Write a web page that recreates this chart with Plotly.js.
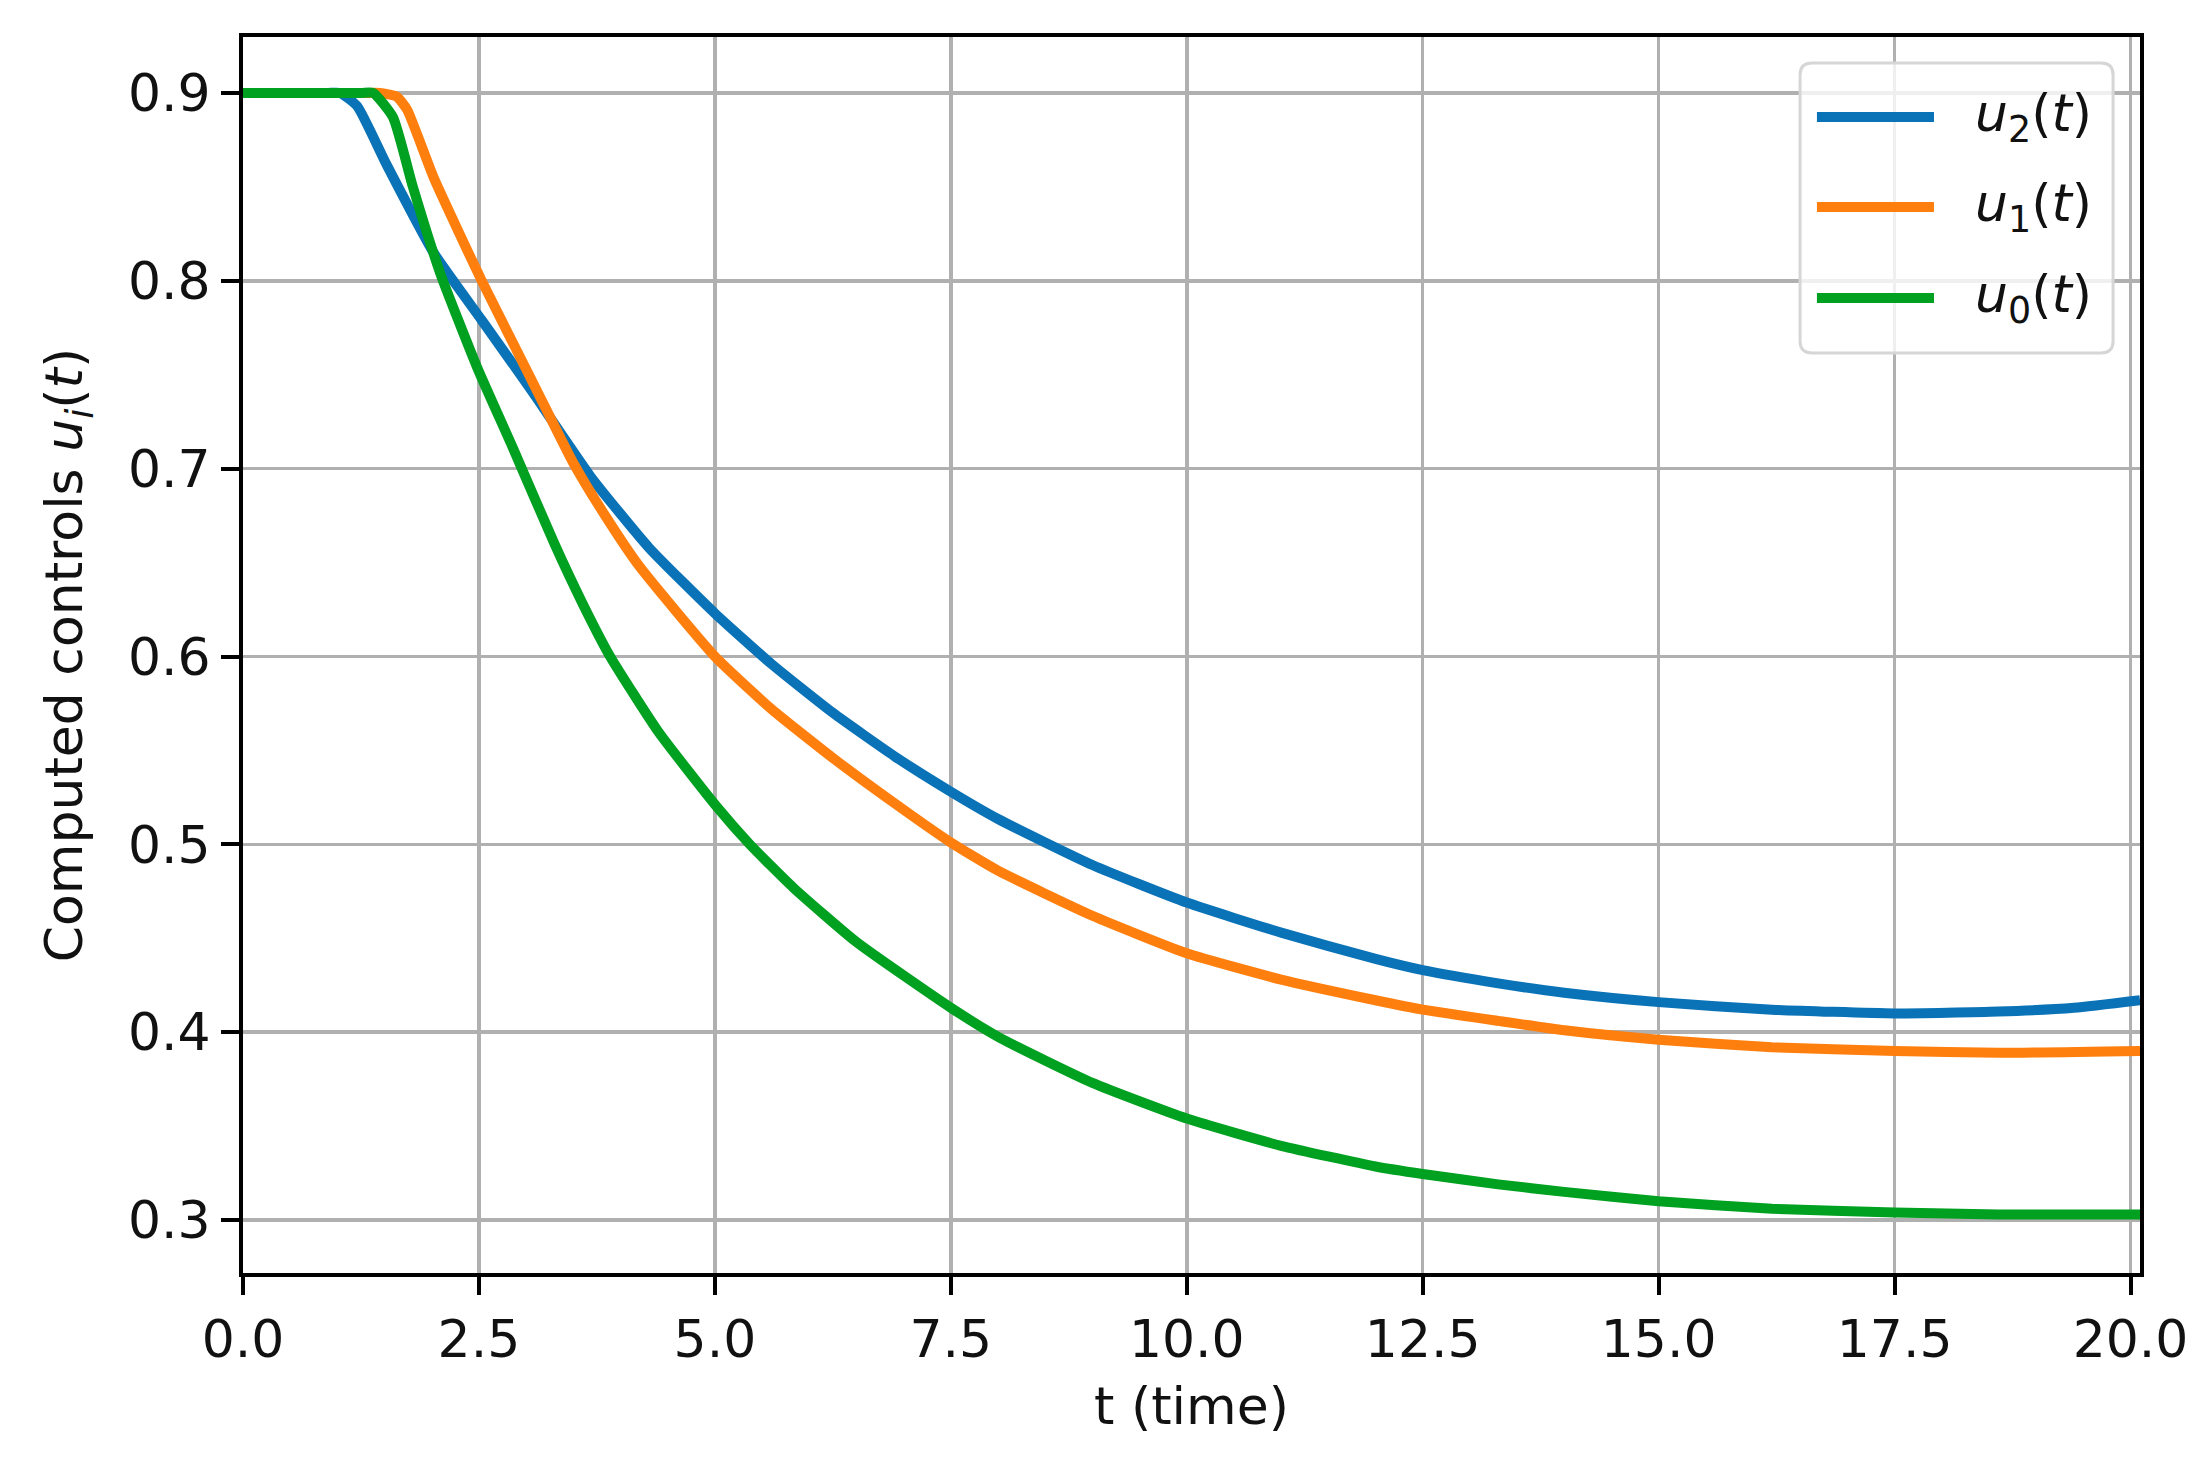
<!DOCTYPE html>
<html>
<head>
<meta charset="utf-8">
<script src="https://cdn.plot.ly/plotly-3.0.1.min.js"></script>
<style>
  html, body { margin: 0; padding: 0; background: #ffffff; }
  #chart { width: 2211px; height: 1461px; }
</style>
</head>
<body>
<div id="chart"></div>
<script>
// Computed controls (t in time units)
const tU2 = [0, 0.9, 1.03, 1.21, 1.52, 2.02, 2.53, 3.08, 3.68, 4.3, 5.0, 5.6, 6.25, 6.9, 7.5, 8.0, 9.0, 10.0, 11.0, 12.0, 12.5, 13.3, 14.0, 15.0, 16.2, 17.5, 18.6, 19.4, 20.1];
const u2 = [0.9, 0.9, 0.9, 0.893, 0.862, 0.815, 0.779, 0.740, 0.696, 0.658, 0.623, 0.596, 0.570, 0.547, 0.528, 0.5135, 0.489, 0.469, 0.453, 0.439, 0.433, 0.426, 0.421, 0.416, 0.412, 0.410, 0.411, 0.413, 0.417];

const tU1 = [0, 1.3, 1.45, 1.63, 1.74, 2.02, 2.53, 3.08, 3.5, 3.85, 4.2, 5.0, 5.6, 6.25, 6.9, 7.5, 8.0, 9.0, 10.0, 11.0, 12.0, 12.5, 13.3, 14.0, 15.0, 16.2, 17.5, 18.6, 20.1];
const u1 = [0.9, 0.9, 0.9, 0.898, 0.891, 0.855, 0.800, 0.745, 0.703, 0.674, 0.648, 0.600, 0.572, 0.546, 0.522, 0.501, 0.486, 0.462, 0.442, 0.428, 0.417, 0.412, 0.406, 0.401, 0.396, 0.392, 0.390, 0.389, 0.390];

const tU0 = [0, 1.25, 1.38, 1.59, 1.80, 2.09, 2.48, 2.86, 3.3, 3.6, 3.89, 4.4, 5.02, 5.37, 5.83, 6.5, 7.5, 8.02, 9.0, 10.0, 11.0, 12.0, 12.5, 13.3, 14.0, 15.0, 16.2, 17.5, 18.6, 20.1];
const u0 = [0.9, 0.9, 0.9, 0.887, 0.850, 0.804, 0.754, 0.711, 0.660, 0.628, 0.600, 0.560, 0.520, 0.500, 0.477, 0.448, 0.413, 0.397, 0.373, 0.354, 0.3395, 0.3285, 0.3245, 0.319, 0.315, 0.310, 0.306, 0.304, 0.303, 0.303];

const seriesNames = ['<i>u</i><sub>2</sub>(<i>t</i>)', '<i>u</i><sub>1</sub>(<i>t</i>)', '<i>u</i><sub>0</sub>(<i>t</i>)'];
const seriesColors = ['#0a72b6', '#ff7f0e', '#00a020'];
const xTicks = [0, 2.5, 5, 7.5, 10, 12.5, 15, 17.5, 20];
const yTicks = [0.3, 0.4, 0.5, 0.6, 0.7, 0.8, 0.9];

const FONT = 'DejaVu Sans, Verdana, sans-serif';
const FS = 52;

const seriesT = [tU2, tU1, tU0];
const seriesU = [u2, u1, u0];

const traces = seriesU.map((u, i) => ({
    type: 'scatter',
    mode: 'lines',
    x: seriesT[i],
    y: u,
    name: seriesNames[i],
    line: { color: seriesColors[i], width: 10, shape: 'spline', smoothing: 0.5 },
    showlegend: false
}));

// Legend box drawn by hand so the line samples can be long like the original
const lg = { x0: 0.8208, x1: 0.9858, y0: 0.7443, y1: 0.979, rx: 0.0063, ry: 0.0097 };
const boxPath = [
    `M ${lg.x0 + lg.rx},${lg.y0}`,
    `L ${lg.x1 - lg.rx},${lg.y0}`,
    `Q ${lg.x1},${lg.y0} ${lg.x1},${lg.y0 + lg.ry}`,
    `L ${lg.x1},${lg.y1 - lg.ry}`,
    `Q ${lg.x1},${lg.y1} ${lg.x1 - lg.rx},${lg.y1}`,
    `L ${lg.x0 + lg.rx},${lg.y1}`,
    `Q ${lg.x0},${lg.y1} ${lg.x0},${lg.y1 - lg.ry}`,
    `L ${lg.x0},${lg.y0 + lg.ry}`,
    `Q ${lg.x0},${lg.y0} ${lg.x0 + lg.rx},${lg.y0}`,
    'Z'
].join(' ');

const legendRows = [0.9353, 0.8625, 0.7888];
const shapes = [{
    type: 'path', xref: 'paper', yref: 'paper', path: boxPath,
    fillcolor: 'rgba(255,255,255,0.8)', line: { color: '#d6d6d6', width: 3 }, layer: 'above'
}];
const annotations = [];
legendRows.forEach((yy, i) => {
    shapes.push({
        type: 'line', xref: 'paper', yref: 'paper',
        x0: 0.8297, x1: 0.8914, y0: yy, y1: yy,
        line: { color: seriesColors[i], width: 10 }, layer: 'above'
    });
    annotations.push({
        xref: 'paper', yref: 'paper', x: 0.912, y: yy,
        xanchor: 'left', yanchor: 'middle', showarrow: false,
        text: seriesNames[i], font: { family: FONT, size: FS, color: '#111111' }
    });
});

const axisCommon = {
    showline: true, mirror: true, linecolor: '#000000', linewidth: 4,
    ticks: 'outside', ticklen: 18, tickwidth: 4, tickcolor: '#000000',
    showgrid: true, gridcolor: '#b0b0b0', gridwidth: 3.5,
    zeroline: false, tickfont: { family: FONT, size: FS, color: '#111111' },
    tickformat: '.1f', tickmode: 'array'
};

const layout = {
    width: 2211, height: 1461,
    paper_bgcolor: '#ffffff', plot_bgcolor: '#ffffff',
    margin: { l: 243, r: 71, t: 37, b: 188 },
    font: { family: FONT, size: FS, color: '#111111' },
    xaxis: Object.assign({}, axisCommon, {
        range: [0, 20.1], tickvals: xTicks,
        title: { text: 't (time)', font: { family: FONT, size: FS, color: '#111111' }, standoff: 20 }
    }),
    yaxis: Object.assign({}, axisCommon, {
        range: [0.2718, 0.9298], tickvals: yTicks,
        title: { text: 'Computed controls <i>u<sub>i</sub></i>(<i>t</i>)', font: { family: FONT, size: FS, color: '#111111' }, standoff: 30 }
    }),
    shapes: shapes,
    annotations: annotations,
    showlegend: false
};

Plotly.newPlot('chart', traces, layout, { staticPlot: true, displayModeBar: false });
</script>
</body>
</html>
